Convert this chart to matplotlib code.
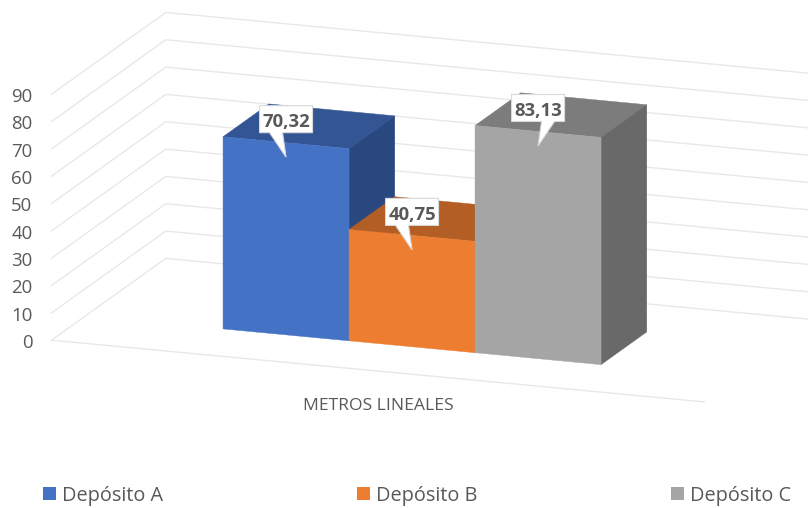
import matplotlib
matplotlib.use("Agg")
import matplotlib.pyplot as plt
from matplotlib.patches import Polygon, Patch

# --- data ---
series_names = ["Depósito A", "Depósito B", "Depósito C"]
series_values = [70.32, 40.75, 83.13]
value_labels = ["70,32", "40,75", "83,13"]
axis_ticks = [0, 10, 20, 30, 40, 50, 60, 70, 80, 90]
category_label = "METROS LINEALES"

# --- style ---
front_colors = ["#4472C4", "#ED7D31", "#A5A5A5"]
top_colors = ["#335593", "#B25E25", "#7C7C7C"]
side_colors = ["#2A4880", "#9A5020", "#696969"]
pointer_side = [-1, -1, 1]
GRID = "#E8E8E8"
TEXT = "#595959"
FONT = "Open Sans"

# --- oblique projection: (along width px, value, depth fraction) -> figure px ---
X0, Y0 = 51.5, 340.2
DX, DY = 114.3, -81.8
VSCALE = 2.733
SLOPE = 0.0945
FLOOR_W = 653
BAR_U0, BAR_W = 137.6, 126
D_FRONT, D_BACK = 0.297, 0.697


def P(u, v, d):
    return (X0 + u + DX * d, Y0 + SLOPE * u - VSCALE * v + DY * d)


fig = plt.figure(figsize=(8.08, 5.08), dpi=100, facecolor="white")
ax = fig.add_axes([0, 0, 1, 1])
ax.set_xlim(0, 808)
ax.set_ylim(508, 0)
ax.axis("off")

# walls and floor gridlines
for t in axis_ticks:
    pts = [P(0, t, 0), P(0, t, 1), P(FLOOR_W, t, 1)]
    ax.plot(*zip(*pts), color=GRID, lw=1.0, zorder=1, solid_joinstyle="miter")
    x, y = P(0, t, 0)
    ax.text(x - 19, y + 0.8, str(t), ha="right", va="center_baseline", fontsize=13.4,
            color=TEXT, family=FONT)
ax.plot(*zip(P(0, 0, 0), P(FLOOR_W, 0, 0)), color=GRID, lw=1.0, zorder=1)

# bars
z = 2
for i, val in enumerate(series_values):
    u0, u1 = BAR_U0 + i * BAR_W, BAR_U0 + (i + 1) * BAR_W
    top = [P(u0, val, D_FRONT), P(u1, val, D_FRONT), P(u1, val, D_BACK), P(u0, val, D_BACK)]
    side = [P(u1, 0, D_FRONT), P(u1, val, D_FRONT), P(u1, val, D_BACK), P(u1, 0, D_BACK)]
    front = [P(u0, 0, D_FRONT), P(u1, 0, D_FRONT), P(u1, val, D_FRONT), P(u0, val, D_FRONT)]
    for poly, col in ((top, top_colors[i]), (side, side_colors[i]), (front, front_colors[i])):
        ax.add_patch(Polygon(poly, closed=True, facecolor=col, edgecolor=col, lw=0.3, zorder=z))
        z += 0.1

# value callouts
BOX_W, BOX_H = 53, 27
for i, val in enumerate(series_values):
    u_mid = BAR_U0 + (i + 0.5) * BAR_W
    tx, ty = P(u_mid, val, D_FRONT)
    ty += 14.5
    left, right = tx - BOX_W / 2, tx + BOX_W / 2
    bot = ty - 24.5
    tp = bot - BOX_H
    s = pointer_side[i]
    b1, b2 = sorted((tx + s * 3.5, tx + s * 16.5))
    shape = [(left, tp), (right, tp), (right, bot), (b2, bot), (tx, ty), (b1, bot), (left, bot)]
    ax.add_patch(Polygon(shape, closed=True, facecolor="white", edgecolor="#D9D9D9", lw=0.8, zorder=10))
    ax.text(tx, (tp + bot) / 2 + 0.8, value_labels[i], ha="center", va="center_baseline", fontsize=13.3,
            fontweight="bold", color=TEXT, family=FONT, zorder=11)

ax.text(378, 404.5, category_label, ha="center", va="center_baseline", fontsize=12.6, color=TEXT, family=FONT)

handles = [Patch(facecolor=c, edgecolor=c, lw=0) for c in front_colors]
leg = ax.legend(handles, series_names, ncol=3, frameon=False,
                loc="center left", bbox_to_anchor=(43 / 808, 1 - 495.5 / 508),
                prop={"family": FONT, "size": 14.3}, labelcolor=TEXT,
                handlelength=0.65, handleheight=0.65, handletextpad=0.3,
                columnspacing=9.75, borderpad=0, borderaxespad=0)

fig.savefig("out.png", dpi=100)
